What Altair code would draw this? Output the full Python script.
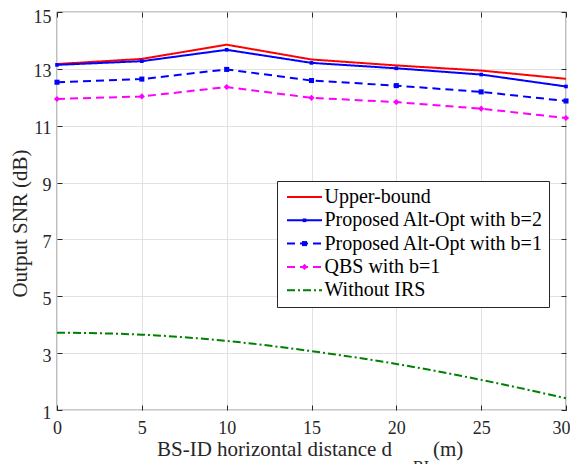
import altair as alt
import pandas as pd

# ---------------- data ----------------
x_vals = [0, 5, 10, 15, 20, 25, 30]
upper_bound = [13.17, 13.35, 13.85, 13.33, 13.12, 12.94, 12.65]
altopt_b2 = [13.14, 13.27, 13.67, 13.21, 13.02, 12.80, 12.38]
altopt_b1 = [12.53, 12.64, 12.98, 12.59, 12.41, 12.19, 11.87]
qbs_b1 = [11.94, 12.03, 12.36, 11.98, 11.83, 11.60, 11.27]
without_irs = [3.72, 3.65, 3.43, 3.07, 2.62, 2.06, 1.41]

series_names = ["Upper-bound", "Proposed Alt-Opt with b=2",
                "Proposed Alt-Opt with b=1", "QBS with b=1", "Without IRS"]
series_values = [upper_bound, altopt_b2, altopt_b1, qbs_b1, without_irs]
has_marker = [False, True, True, True, False]

x_ticks = [0, 5, 10, 15, 20, 25, 30]
y_ticks = [1, 3, 5, 7, 9, 11, 13, 15]

# ---------------- styles ----------------
colors = ["#ff0000", "#0000ff", "#0000ff", "#ff00ff", "#008000"]
marker_colors = ["transparent", "#0000ff", "#0000ff", "#ff00ff", "transparent"]
dashes = [[1, 0], [1, 0], [8, 5], [8, 5], [8, 3, 2, 3]]
shapes = ["square", "square", "square", "diamond", "square"]
sizes = [1, 50, 50, 95, 1]

rows = []
for name, vals, mk in zip(series_names, series_values, has_marker):
    for xv, yv in zip(x_vals, vals):
        rows.append({"x": xv, "y": yv, "series": name, "series_m": name, "marker": mk})
df = pd.DataFrame(rows)

W, H = 509, 398
FONT = "Liberation Serif"
INK = "#262626"

x_scale = alt.Scale(domain=[0, 30], nice=False, zero=False)
y_scale = alt.Scale(domain=[1, 15], nice=False, zero=False)

x_axis_main = alt.Axis(values=x_ticks, title=None, grid=True, gridColor="#e2e2e2",
                       domain=False, ticks=False, labelFont=FONT, labelFontSize=18,
                       labelColor=INK, labelPadding=9, labelFlush=False,
                       labelOffset={"condition": {"test": "datum.value == 30", "value": -5}, "value": 0})
y_axis_main = alt.Axis(values=y_ticks, title="Output SNR (dB)", grid=True, gridColor="#e2e2e2",
                       domain=False, ticks=False, labelFont=FONT, labelFontSize=18,
                       labelColor=INK, labelPadding=6, labelFlush=False,
                       labelOffset={"condition": {"test": "datum.value == 15", "value": 5}, "value": 3},
                       titleFont=FONT, titleFontSize=21, titleFontWeight="normal",
                       titleColor=INK, titleAngle=270, titleX=-37, titleY=211,
                       titleAlign="center", titleBaseline="middle")

LEG_X, LEG_Y, LEG_PAD = 220, 169, 6
legend_lines = alt.Legend(orient="none", legendX=LEG_X, legendY=LEG_Y, title=None,
                          symbolType="M-3.5,0H3.5", symbolSize=100, symbolStrokeWidth=2,
                          symbolOffset=11.5,
                          labelFont=FONT, labelFontSize=20, labelColor="black",
                          labelOffset=10, labelLimit=0, padding=LEG_PAD, rowPadding=3.3,
                          strokeColor=INK, fillColor="white")
legend_marks = alt.Legend(orient="none", legendX=LEG_X, legendY=LEG_Y, title=None,
                          symbolOffset=11.5, symbolStrokeWidth=0,
                          labelFont=FONT, labelFontSize=20, labelExpr="''",
                          labelLimit=0, padding=LEG_PAD, rowPadding=3.3)

color_enc = alt.Color("series:N", scale=alt.Scale(domain=series_names, range=colors),
                      legend=legend_lines)
dash_enc = alt.StrokeDash("series:N", scale=alt.Scale(domain=series_names, range=dashes),
                          legend=legend_lines)

base = alt.Chart(df)

lines_lin = base.transform_filter(alt.datum.series != "Without IRS").mark_line(
    strokeWidth=2).encode(
    x=alt.X("x:Q", scale=x_scale, axis=x_axis_main),
    y=alt.Y("y:Q", scale=y_scale, axis=y_axis_main),
    color=color_enc, strokeDash=dash_enc, detail="series:N")

lines_smooth = base.transform_filter(alt.datum.series == "Without IRS").mark_line(
    strokeWidth=2, interpolate="monotone").encode(
    x=alt.X("x:Q", scale=x_scale, axis=x_axis_main),
    y=alt.Y("y:Q", scale=y_scale, axis=y_axis_main),
    color=color_enc, strokeDash=dash_enc, detail="series:N")

lines = alt.layer(lines_lin, lines_smooth)

points = base.transform_filter(alt.datum.marker == True).mark_point(
    filled=True, opacity=1, strokeWidth=0).encode(
    x=alt.X("x:Q", scale=x_scale, axis=None),
    y=alt.Y("y:Q", scale=y_scale, axis=None),
    color=alt.Color("series_m:N", scale=alt.Scale(domain=series_names, range=marker_colors),
                    legend=legend_marks),
    shape=alt.Shape("series_m:N", scale=alt.Scale(domain=series_names, range=shapes),
                    legend=legend_marks),
    size=alt.Size("series_m:N", scale=alt.Scale(domain=series_names, range=sizes),
                  legend=legend_marks))

tick_kw = dict(labels=False, domain=False, grid=False, ticks=True, tickSize=5,
               tickColor=INK, title=None)
ticks_a = base.mark_point(opacity=0).encode(
    x=alt.X("x:Q", scale=x_scale, axis=alt.Axis(values=x_ticks, orient="top", offset=-H, **tick_kw)),
    y=alt.Y("y:Q", scale=y_scale, axis=alt.Axis(values=y_ticks, orient="right", offset=-W, **tick_kw)))
ticks_b = base.mark_point(opacity=0).encode(
    x=alt.X("x:Q", scale=x_scale, axis=alt.Axis(values=x_ticks, orient="bottom", offset=-H, **tick_kw)),
    y=alt.Y("y:Q", scale=y_scale, axis=alt.Axis(values=y_ticks, orient="left", offset=-W, **tick_kw)))

title_main = alt.Chart(pd.DataFrame({"t": ["BS-ID horizontal distance d"]})).mark_text(
    font=FONT, fontSize=21, align="left", baseline="alphabetic", color=INK).encode(
    x=alt.value(100), y=alt.value(444), text="t:N")
title_sub = alt.Chart(pd.DataFrame({"t": ["BI"]})).mark_text(
    font=FONT, fontSize=16, align="left", baseline="alphabetic", color=INK).encode(
    x=alt.value(356), y=alt.value(460), text="t:N")
title_unit = alt.Chart(pd.DataFrame({"t": ["(m)"]})).mark_text(
    font=FONT, fontSize=21, align="left", baseline="alphabetic", color=INK).encode(
    x=alt.value(376), y=alt.value(444), text="t:N")

chart = alt.layer(ticks_a, ticks_b, lines, points, title_main, title_sub, title_unit).resolve_scale(
    color="independent", shape="independent", size="independent", strokeDash="independent"
).resolve_axis(x="independent", y="independent").properties(
    width=W, height=H,
    autosize=alt.AutoSizeParams(type="none"),
    padding={"left": 49, "top": 4, "right": 4, "bottom": 56},
).configure(background="white").configure_view(stroke=INK, strokeWidth=1.2)

chart.save("out.html", embed_options={"renderer": "svg", "actions": False})
